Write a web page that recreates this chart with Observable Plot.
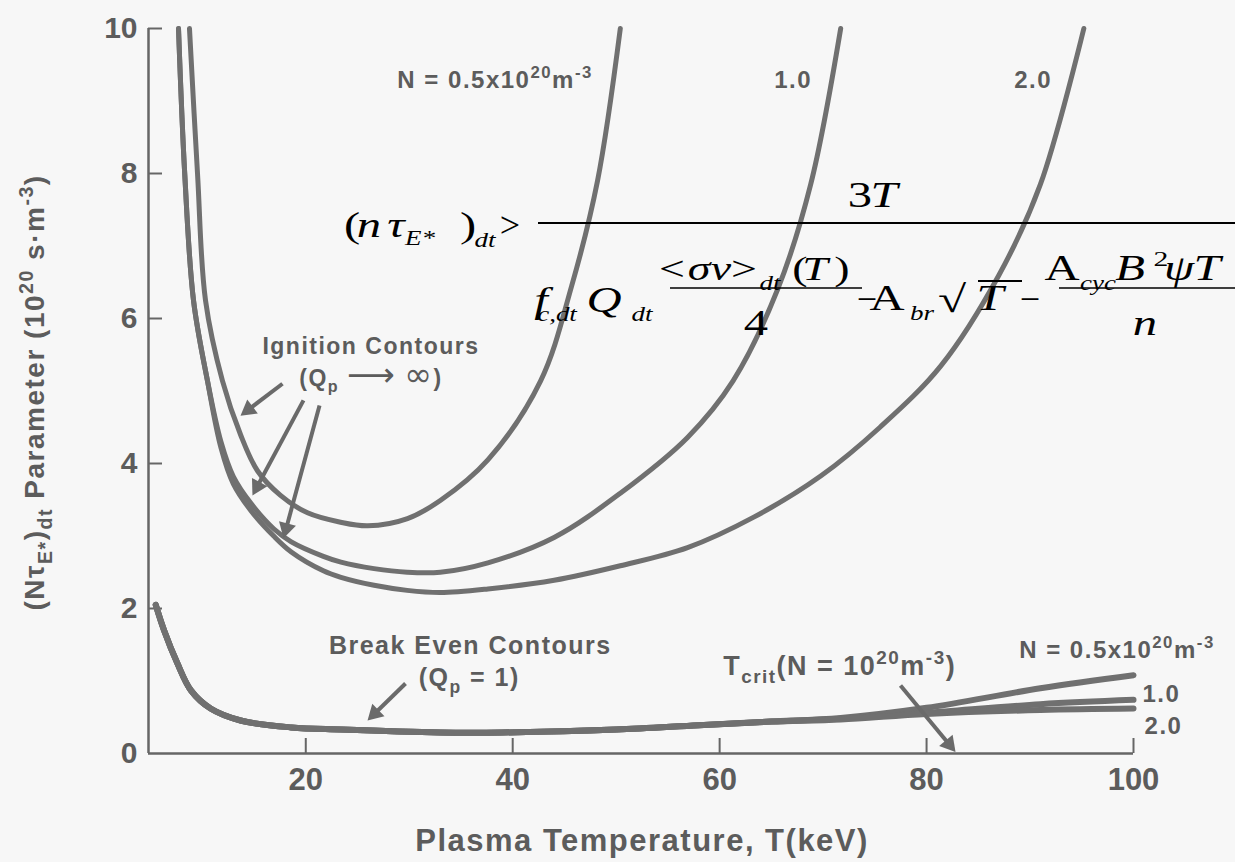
<!DOCTYPE html>
<html>
<head>
<meta charset="utf-8">
<script src="https://cdn.jsdelivr.net/npm/d3@7"></script>
<script src="https://cdn.jsdelivr.net/npm/@observablehq/plot@0.6"></script>
<style>
  html, body { margin: 0; padding: 0; background: #f7f7f7; }
  #chart { width: 1235px; height: 862px; }
  g[aria-label="text"] text { letter-spacing: 1.5px; }
</style>
</head>
<body>
<div id="chart"></div>
<script>
// ---------- data ----------
const xTicks = [20, 40, 60, 80, 100];
const yTicks = [0, 2, 4, 6, 8, 10];
const densities = ["0.5", "1.0", "2.0"];

// Ignition contours (Qp -> infinity): T in keV, (N tau)_dt in 1e20 s m^-3
const ign05_T = [8.76, 9.54, 10.31, 11.95, 13.69, 15.33, 17.56, 20.17, 23.36, 26.0, 29.83, 33.0, 37.6, 42.7, 45.7, 48.2, 50.4];
const ign05_V = [10, 7.99, 6.25, 5.14, 4.40, 3.90, 3.56, 3.32, 3.19, 3.14, 3.24, 3.49, 4.05, 5.14, 6.45, 7.90, 10];

const ign10_T = [7.7, 8.3, 9.15, 10.5, 11.8, 13.0, 14.7, 16.9, 18.6, 21.7, 23.4, 26.6, 29.8, 33.0, 37.6, 44.0, 50.4, 56.9, 61.3, 65.6, 68.8, 71.7];
const ign10_V = [10, 8.0, 6.25, 5.14, 4.30, 3.82, 3.45, 3.10, 2.92, 2.72, 2.64, 2.55, 2.50, 2.50, 2.63, 2.98, 3.59, 4.36, 5.14, 6.40, 7.85, 10];

const ign20_T = [7.7, 8.3, 9.15, 10.5, 11.8, 13.0, 14.7, 16.9, 18.6, 21.7, 23.4, 26.6, 29.8, 33.0, 37.6, 44.0, 50.4, 56.9, 63.3, 69.8, 75.5, 81.4, 87.0, 91.0, 95.2];
const ign20_V = [10, 8.0, 6.25, 5.14, 4.22, 3.72, 3.35, 3.00, 2.78, 2.52, 2.43, 2.32, 2.25, 2.22, 2.27, 2.39, 2.59, 2.84, 3.26, 3.83, 4.50, 5.35, 6.60, 7.85, 10];

// Break-even contours (Qp = 1)
const be05_T = [5.5, 6.3, 7.6, 8.9, 10.8, 13.7, 18.6, 23.4, 33, 39, 50, 58, 65, 71.7, 80, 91, 100];
const be05_V = [2.05, 1.70, 1.24, 0.87, 0.62, 0.455, 0.36, 0.33, 0.29, 0.29, 0.33, 0.39, 0.44, 0.49, 0.63, 0.90, 1.08];
const be10_T = [5.5, 6.3, 7.6, 8.9, 10.8, 13.7, 18.6, 23.4, 33, 39, 50, 58, 65, 71.7, 80, 91, 100];
const be10_V = [2.05, 1.70, 1.24, 0.87, 0.62, 0.455, 0.36, 0.33, 0.29, 0.29, 0.33, 0.39, 0.44, 0.48, 0.56, 0.68, 0.74];
const be20_T = [5.5, 6.3, 7.6, 8.9, 10.8, 13.7, 18.6, 23.4, 33, 39, 50, 58, 65, 71.7, 80, 91, 100];
const be20_V = [2.05, 1.70, 1.24, 0.87, 0.62, 0.455, 0.36, 0.33, 0.29, 0.29, 0.33, 0.39, 0.44, 0.47, 0.545, 0.60, 0.62];

// Labels
const xLabel = "Plasma Temperature, T(keV)";
const yLabel = "(Nτ_{E*})_{dt} Parameter (10^{20} s·m^{-3})";
const labelTop = ["N = 0.5x10^{20}m^{-3}", "1.0", "2.0"];
const labelTopT = [38.3, 67.1, 90.3];
const labelRight = ["N = 0.5x10^{20}m^{-3}", "1.0", "2.0"];
const labelRightT = [98.4, 102.7, 102.9];
const labelRightV = [1.42, 0.81, 0.37];

// Annotation text & arrows (in data units T, value)
const notes = [
  {text: "Ignition Contours", T: 26.3, v: 5.61, size: 23},
  {text: "(Q_{p} ~{⟶} ~{∞})", T: 26.3, v: 5.17, size: 23},
  {text: "Break Even Contours", T: 35.9, v: 1.476, size: 25},
  {text: "(Q_{p} = 1)", T: 35.8, v: 1.048, size: 25},
  {text: "T_{crit}(N = 10^{20}m^{-3})", T: 71.6, v: 1.20, size: 27}
];
const arrows = [
  {T1: 17.75, v1: 5.10, T2: 13.69, v2: 4.66},
  {T1: 19.78, v1: 4.87, T2: 14.85, v2: 3.56},
  {T1: 21.33, v1: 4.80, T2: 17.85, v2: 2.97},
  {T1: 29.64, v1: 0.966, T2: 25.97, v2: 0.455},
  {T1: 77.48, v1: 0.938, T2: 82.8, v2: 0.02}
];

// ---------- build tables ----------
function rows(Ts, Vs, N) { return Ts.map((T, i) => ({T, v: Vs[i], N})); }
const ignition = [
  ...rows(ign05_T, ign05_V, densities[0]),
  ...rows(ign10_T, ign10_V, densities[1]),
  ...rows(ign20_T, ign20_V, densities[2])
];
const breakEven = [
  ...rows(be05_T, be05_V, densities[0]),
  ...rows(be10_T, be10_V, densities[1]),
  ...rows(be20_T, be20_V, densities[2])
];

const X0 = 4.8, X1 = 100;
const W = 1235, H = 862, mL = 148, mR = 102, mT = 28, mB = 109;
const pxPerT = (W - mL - mR) / (X1 - X0);
const pxPerV = (H - mT - mB) / 10;
const yTickLen = 14 / pxPerT;
const xTickLen = 15 / pxPerV;
const gray = "#5c5c5c";
const curveGray = "#707070";

// arrow heads: filled triangles at the tip, oriented along the shaft
const headR = 6.5;
const heads = arrows.map(a => {
  const dx = (a.T2 - a.T1) * pxPerT, dy = -(a.v2 - a.v1) * pxPerV;
  const len = Math.hypot(dx, dy), ux = dx / len, uy = dy / len;
  const back = 1.555 * headR;
  return {
    T: a.T2 - ux * back / pxPerT,
    v: a.v2 + uy * back / pxPerV,
    angle: Math.atan2(ux, -uy) * 180 / Math.PI,
    T1: a.T1, v1: a.v1
  };
});

const plot = Plot.plot({
  width: W, height: H,
  marginLeft: mL, marginRight: mR, marginTop: mT, marginBottom: mB,
  x: {domain: [X0, X1]},
  y: {domain: [0, 10]},
  style: {background: "#f7f7f7", color: gray, fontFamily: "'Liberation Sans', Arial, sans-serif"},
  marks: [
    Plot.axisY(yTicks, {tickSize: 0, tickPadding: 11, fontSize: 30, fontWeight: "bold", label: null, tickFormat: d => String(d)}),
    Plot.axisX(xTicks, {tickSize: 0, tickPadding: 14, fontSize: 31, fontWeight: "bold", label: null, tickFormat: d => String(d)}),
    Plot.ruleY(yTicks.filter(d => d > 0), {x1: X0, x2: X0 + yTickLen, stroke: "#666", strokeWidth: 2}),
    Plot.ruleX(xTicks, {y1: 0, y2: xTickLen, stroke: "#666", strokeWidth: 2}),
    Plot.ruleX([X0], {y1: 0, y2: 10, stroke: "#666", strokeWidth: 2.5}),
    Plot.ruleY([0], {x1: X0, x2: X1, stroke: "#666", strokeWidth: 2.5}),
    Plot.line(breakEven, {x: "T", y: "v", z: "N", stroke: curveGray, strokeWidth: 6, curve: "catmull-rom"}),
    Plot.line(ignition, {x: "T", y: "v", z: "N", stroke: curveGray, strokeWidth: 5, curve: "catmull-rom"}),
    Plot.link(heads, {x1: "T1", y1: "v1", x2: "T", y2: "v", stroke: "#6a6a6a", strokeWidth: 4}),
    Plot.dot(heads, {x: "T", y: "v", r: headR, symbol: "triangle", rotate: "angle", fill: "#6a6a6a", stroke: "none"}),
    Plot.text(labelTop, {x: (d, i) => labelTopT[i], y: 9.28, text: d => d, fontSize: 24, fontWeight: "bold", fill: gray}),
    Plot.text(labelRight, {x: (d, i) => labelRightT[i], y: (d, i) => labelRightV[i], text: d => d, fontSize: 24, fontWeight: "bold", fill: gray}),
    Plot.text(notes, {x: "T", y: "v", text: "text", fontSize: d => d.size, fontWeight: "bold", fill: gray}),
    Plot.text([xLabel], {x: 52.5, y: 0, dy: 88, text: d => d, fontSize: 31, fontWeight: "bold", fill: gray}),
    Plot.text([yLabel], {x: X0, y: 4.98, dx: -113, rotate: -90, text: d => d, fontSize: 28, fontWeight: "bold", fill: gray})
  ]
});

document.getElementById("chart").appendChild(plot);

// ---------- rich text (sub/superscripts) ----------
function richify(svg) {
  d3.select(svg).selectAll("text").each(function () {
    const s = this.textContent;
    if (!/[\^_~]\{/.test(s)) return;
    const fs = parseFloat(getComputedStyle(this).fontSize) || 20;
    const el = d3.select(this);
    el.text(null);
    const re = /([\^_~])\{([^}]*)\}/g;
    const parts = [];
    let last = 0, m;
    while ((m = re.exec(s))) {
      if (m.index > last) parts.push({t: s.slice(last, m.index), k: ""});
      parts.push({t: m[2], k: m[1]});
      last = re.lastIndex;
    }
    if (last < s.length) parts.push({t: s.slice(last), k: ""});
    let cur = 0;
    for (const p of parts) {
      const target = p.k === "^" ? -0.42 * fs : p.k === "_" ? 0.28 * fs : 0;
      const ts = el.append("tspan").text(p.t);
      if (target - cur !== 0) ts.attr("dy", target - cur);
      if (p.k === "^" || p.k === "_") ts.attr("font-size", 0.7 * fs);
      if (p.k === "~") ts.attr("font-size", 1.45 * fs).attr("font-family", "'DejaVu Sans', sans-serif").attr("font-weight", "normal");
      cur = target;
    }
  });
}
richify(plot);

// ---------- inset equation (horizontally stretched, as in the source image) ----------
function drawEquation(svg) {
  const sx = 1.35;
  const g = d3.select(svg).append("g")
    .attr("font-family", "'Liberation Serif', 'Times New Roman', serif")
    .attr("fill", "#000");
  const t = (x, y, size, italic, str, scale = sx) => g.append("text")
    .attr("transform", `translate(${x},${y}) scale(${scale},1)`)
    .attr("font-size", size).attr("font-style", italic ? "italic" : "normal").text(str);
  const bar = (x1, x2, y, w) => g.append("line").attr("x1", x1).attr("x2", x2).attr("y1", y).attr("y2", y)
    .attr("stroke", "#000").attr("stroke-width", w);
  // left-hand side
  t(352, 237, 36, false, "(");
  t(369, 237, 36, true, "n");
  t(396, 237, 36, true, "τ");
  t(420, 245, 20, true, "E*");
  t(468, 237, 36, false, ")");
  t(485, 247, 20, true, "dt");
  t(510, 237, 36, false, ">", 1.0);
  // numerator
  t(860, 207, 36, false, "3");
  t(884, 207, 36, true, "T");
  bar(538, 1235, 223, 2);
  // denominator
  t(541, 312, 36, true, "f");
  t(557, 321, 20, true, "c,dt");
  t(604, 312, 36, true, "Q");
  t(642, 321, 20, true, "dt");
  t(672, 280, 34, false, "<");
  t(699, 280, 34, true, "σ");
  t(721, 280, 34, true, "v");
  t(744, 280, 34, false, ">");
  t(770, 290, 20, true, "dt");
  t(800, 280, 34, false, "(");
  t(815, 280, 34, true, "T");
  t(842, 280, 34, false, ")");
  bar(670, 862, 288, 1.6);
  t(756, 335, 36, false, "4");
  t(867, 311, 36, false, "−", 1.0);
  t(887, 310, 36, false, "A");
  t(922, 320, 20, true, "br");
  t(952, 312, 38, false, "√");
  bar(978, 1022, 281, 1.8);
  t(990, 310, 36, true, "T");
  t(1030, 311, 36, false, "−", 1.0);
  t(1062, 280, 36, false, "A");
  t(1098, 290, 20, true, "cyc");
  t(1130, 280, 36, true, "B");
  t(1161, 266, 22, false, "2");
  t(1179, 280, 36, true, "ψ");
  t(1207, 280, 36, true, "T");
  bar(1059, 1235, 288, 1.6);
  t(1145, 335, 36, true, "n");
}
drawEquation(plot);
</script>
</body>
</html>
